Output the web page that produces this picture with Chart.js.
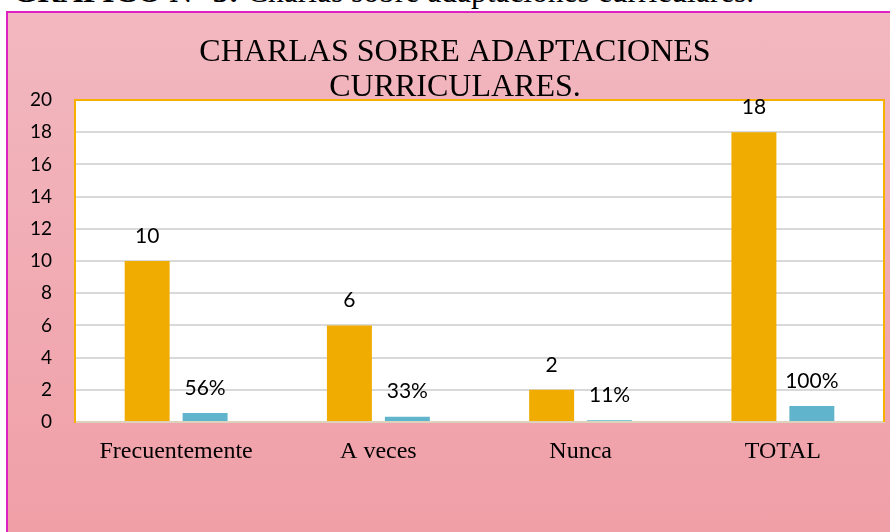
<!DOCTYPE html>
<html>
<head>
<meta charset="utf-8">
<script src="https://cdn.jsdelivr.net/npm/chart.js@4.4.1/dist/chart.umd.min.js"></script>
<style>
  html, body { margin: 0; padding: 0; width: 890px; height: 532px; overflow: hidden; background: #fff; }
  #caption {
    position: absolute; left: 13px; top: -23px; white-space: nowrap;
    font: 31.5px/30px "Liberation Serif", serif; color: #000;
  }
  #frame {
    position: absolute; left: 6px; top: 11px; width: 900px; height: 540px;
    border-top: 2px solid #dd22c4; border-left: 2px solid #dd22c4;
    background: linear-gradient(#f2b8c0, #f09ea6);
  }
  #chartBox { position: absolute; left: 8px; top: 14px; }
</style>
</head>
<body>
<div id="caption"><b>GRÁFICO N° 3:</b> Charlas sobre adaptaciones curriculares.</div>
<div id="frame"></div>
<div id="chartBox"><canvas id="charlasChart" width="894" height="518"></canvas></div>
<script>
const categories = ['Frecuentemente', 'A veces', 'Nunca', 'TOTAL'];
const counts = [10, 6, 2, 18];
const shares = [0.56, 0.33, 0.11, 1];
const yTicks = [0, 2, 4, 6, 8, 10, 12, 14, 16, 18, 20];

const colors = {
  orange: '#f0ac00',
  blue:   '#60b4cc',
  border: '#f5b000',
  grid:   '#d9d9d9',
  base:   '#ddd3bd'
};

// fondo blanco y borde naranja del área de trazado
const plotFrame = {
  id: 'plotFrame',
  beforeDraw(chart) {
    const { ctx, chartArea: a } = chart;
    ctx.save();
    ctx.fillStyle = '#fff';
    ctx.fillRect(a.left, a.top, a.right - a.left, a.bottom - a.top);
    ctx.restore();
  },
  beforeDatasetsDraw(chart) {
    const { ctx, chartArea: a } = chart;
    ctx.save();
    ctx.strokeStyle = colors.border;
    ctx.lineWidth = 2;
    ctx.beginPath();
    ctx.moveTo(a.left, a.bottom);
    ctx.lineTo(a.left, a.top);
    ctx.lineTo(a.right, a.top);
    ctx.lineTo(a.right, a.bottom);
    ctx.stroke();
    ctx.restore();
  }
};

// etiquetas sobre las barras
const valueLabels = {
  id: 'valueLabels',
  afterDatasetsDraw(chart) {
    const { ctx } = chart;
    ctx.save();
    ctx.font = '21px Lato, "Open Sans", sans-serif';
    ctx.fillStyle = '#000';
    ctx.textAlign = 'center';
    ctx.textBaseline = 'middle';
    chart.data.datasets.forEach((ds, di) => {
      chart.getDatasetMeta(di).data.forEach((bar, i) => {
        ctx.fillText(ds.valueText[i], bar.x, bar.y - 25);
      });
    });
    ctx.restore();
  }
};

new Chart(document.getElementById('charlasChart'), {
  type: 'bar',
  data: {
    labels: categories,
    datasets: [{
      label: 'Frecuencia',
      data: counts,
      valueText: counts.map(String),
      backgroundColor: colors.orange,
      categoryPercentage: 0.573,
      barPercentage: 0.776
    }, {
      label: 'Porcentaje',
      data: shares,
      valueText: shares.map(v => Math.round(v * 100) + '%'),
      backgroundColor: colors.blue,
      categoryPercentage: 0.573,
      barPercentage: 0.776
    }]
  },
  options: {
    responsive: false,
    animation: false,
    layout: { padding: 0 },
    plugins: {
      legend: { display: false },
      tooltip: { enabled: false },
      title: {
        display: true,
        text: ['CHARLAS SOBRE ADAPTACIONES', 'CURRICULARES.'],
        color: '#000',
        font: { family: '"Liberation Serif", serif', size: 32, weight: 'normal', lineHeight: 1.094 },
        padding: { top: 21.5, bottom: -5.5 }
      }
    },
    scales: {
      x: {
        grid: { display: false, drawTicks: false },
        border: { display: true, color: colors.base, width: 2 },
        ticks: {
          color: '#000',
          padding: 15,
          font: { family: '"Liberation Serif", serif', size: 24 }
        },
        afterFit(scale) { scale.height = 110; }
      },
      y: {
        min: 0,
        max: 20,
        afterBuildTicks(scale) { scale.ticks = yTicks.map(v => ({ value: v })); },
        grid: { color: colors.grid, lineWidth: 2, drawTicks: false },
        border: { display: true, color: colors.border, width: 2 },
        ticks: {
          color: '#000',
          padding: 23,
          font: { family: 'Lato, "Open Sans", sans-serif', size: 19 }
        },
        afterFit(scale) { scale.width = 67; }
      },
      // eje vacío a la derecha: sólo reserva espacio para centrar el título
      spacer: {
        position: 'right',
        grid: { display: false, drawTicks: false },
        border: { display: false },
        ticks: { display: false },
        afterFit(scale) { scale.width = 18; }
      }
    }
  },
  plugins: [plotFrame, valueLabels]
});
</script>
</body>
</html>
